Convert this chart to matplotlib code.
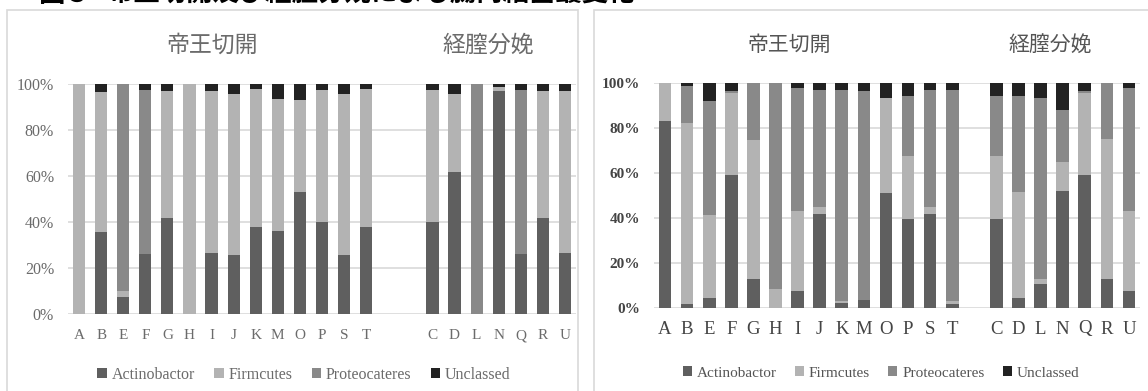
import matplotlib
matplotlib.use('Agg')
import matplotlib.pyplot as plt
from matplotlib.patches import Rectangle, Patch
import numpy as np

W, H = 1148, 391

# ---------------- data ----------------
cs_cats = ['A', 'B', 'E', 'F', 'G', 'H', 'I', 'J', 'K', 'M', 'O', 'P', 'S', 'T']
vd_cats = ['C', 'D', 'L', 'N', 'Q', 'R', 'U']
series = ['Actinobactor', 'Firmcutes', 'Proteocateres', 'Unclassed']
colors = ['#5f5f5f', '#b3b3b3', '#898989', '#222222']
group_labels = ['帝王切開', '経膣分娩']
title_prefix = '図５'
title_text = '帝王切開及び経膣分娩による腸内細菌叢変化'
yticks = [0, 20, 40, 60, 80, 100]

# left chart (% per sample), order: cs_cats then vd_cats
left_actino = [0, 35.5, 7.5, 25.9, 41.6, 0, 26.4, 25.5, 37.8, 35.9, 53.0, 40.1, 25.5, 37.8,
               40.1, 61.6, 0, 96.8, 25.9, 41.6, 26.4]
left_firm = [100, 60.9, 2.5, 0, 55.4, 100, 70.4, 70.3, 60.0, 57.7, 40.2, 57.4, 70.3, 60.0,
             57.4, 34.2, 0, 2.0, 0, 55.2, 70.4]
left_proteo = [0, 0, 90.0, 71.6, 0, 0, 0, 0, 0, 0, 0, 0, 0, 0,
               0, 0, 100, 0, 71.6, 0, 0]
left_uncl = [0, 3.6, 0, 2.5, 3.0, 0, 3.2, 4.2, 2.2, 6.4, 6.8, 2.5, 4.2, 2.2,
             2.5, 4.2, 0, 1.2, 2.5, 3.2, 3.2]

# right chart
right_actino = [83.0, 1.9, 4.4, 59.3, 12.9, 0, 7.4, 41.9, 2.1, 3.4, 51.0, 39.7, 41.8, 1.9,
                39.7, 4.4, 10.7, 52.0, 59.3, 12.9, 7.4]
right_firm = [17.0, 80.3, 36.8, 36.3, 61.9, 8.4, 35.9, 3.1, 0.9, 0, 42.3, 27.9, 3.2, 1.2,
              27.9, 47.3, 2.2, 13.0, 36.3, 62.1, 35.9]
right_proteo = [0, 16.3, 50.8, 0.8, 25.2, 91.6, 54.5, 51.7, 93.7, 92.9, 0, 26.6, 51.7, 93.6,
                26.6, 42.5, 80.4, 23.0, 1.0, 25.0, 54.5]
right_uncl = [0, 1.5, 8.0, 3.6, 0, 0, 2.2, 3.3, 3.3, 3.7, 6.7, 5.8, 3.3, 3.3,
              5.8, 5.8, 6.7, 12.0, 3.4, 0, 2.2]

# ---------------- figure ----------------
fig = plt.figure(figsize=(W / 100, H / 100), dpi=100)

# panel frames
for (x0, x1) in [(7, 578), (594, 1170)]:
    fig.patches.append(Rectangle((x0 / W, -0.1), (x1 - x0) / W, (H - 10) / H + 0.1,
                                 transform=fig.transFigure, fill=False,
                                 edgecolor='#d9d9d9', lw=1.2))

# title (clipped at top, as in the reference)
fig.text(38 / W, 1 - 2 / H, title_prefix, fontsize=19, fontweight='bold',
         family=['Noto Sans CJK JP', 'DejaVu Sans'], color='black', va='baseline', ha='left')
fig.text(107 / W, 1 - 2 / H, title_text, fontsize=19, fontweight='bold',
         family=['Noto Sans CJK JP', 'DejaVu Sans'], color='black', va='baseline', ha='left')


def draw(ax_rect, gap, data, width, tick_fs, ytick_fs, tcolor, weight, yweight, xpad):
    ax = fig.add_axes(ax_rect)
    n_cs, n_vd = len(cs_cats), len(vd_cats)
    pos = list(range(n_cs)) + [n_cs + gap + i for i in range(n_vd)]
    cats = cs_cats + vd_cats
    bottom = np.zeros(len(pos))
    for vals, c in zip(data, colors):
        ax.bar(pos, vals, bottom=bottom, width=width, color=c, edgecolor='none', zorder=3)
        bottom += np.array(vals)
    ax.set_xlim(-0.5, pos[-1] + 0.5)
    ax.set_ylim(0, 100)
    ax.set_yticks(yticks)
    ax.set_yticklabels([f'{v}%' for v in yticks], fontsize=ytick_fs, color=tcolor,
                       family='Liberation Serif', fontweight=yweight)
    ax.set_xticks(pos)
    ax.set_xticklabels(cats, fontsize=tick_fs, color=tcolor, family='Liberation Serif',
                       fontweight=weight)
    ax.tick_params(length=0, pad=10)
    ax.tick_params(axis='x', pad=xpad)
    for s in ax.spines.values():
        s.set_visible(False)
    ax.grid(axis='y', color='#d9d9d9', lw=1.2, zorder=0)
    ax.set_axisbelow(True)
    return ax


# left chart: axes x 68..576, y 84..314
l0, l1, t0, b0 = 68, 576, 84, 314
axL = draw([l0 / W, 1 - b0 / H, (l1 - l0) / W, (b0 - t0) / H], 2,
           [left_actino, left_firm, left_proteo, left_uncl], 0.55, 11, 11.5, '#6b6b6b',
           'normal', 'normal', 11)
# right chart: axes x 654..1140, y 83..308
r0, r1, t1, b1 = 654, 1140, 83, 308
axR = draw([r0 / W, 1 - b1 / H, (r1 - r0) / W, (b1 - t1) / H], 1,
           [right_actino, right_firm, right_proteo, right_uncl], 0.57, 13.5, 11, '#444444',
           'normal', 'bold', 9)

# group labels
for (x, lab, fs, col) in [(212, group_labels[0], 16.5, '#6b6b6b'), (488, group_labels[1], 16.5, '#6b6b6b'),
                          (789, group_labels[0], 15, '#555555'), (1050, group_labels[1], 15, '#555555')]:
    fig.text(x / W, 1 - 45 / H, lab, fontsize=fs, color=col, ha='center', va='center',
             family=['Noto Sans CJK JP', 'DejaVu Sans'])

# legends
handles = [Patch(facecolor=c, edgecolor='none') for c in colors]
legL = fig.legend(handles, series, loc='center', bbox_to_anchor=(304 / W, 1 - 375 / H), ncol=4,
                  frameon=False, handlelength=0.6, handleheight=0.6, handletextpad=0.3,
                  columnspacing=1.2, prop={'family': 'Liberation Serif', 'size': 11.5})
for t in legL.get_texts():
    t.set_color('#6b6b6b')
legR = fig.legend(handles, series, loc='center', bbox_to_anchor=(881 / W, 1 - 373 / H), ncol=4,
                  frameon=False, handlelength=0.6, handleheight=0.6, handletextpad=0.3,
                  columnspacing=1.2, prop={'family': 'Liberation Serif', 'size': 11})
for t in legR.get_texts():
    t.set_color('#555555')

fig.savefig('out.png', dpi=100)
